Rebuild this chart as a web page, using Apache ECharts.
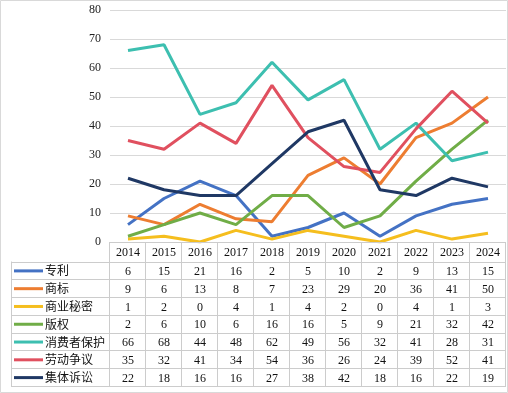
<!DOCTYPE html>
<html><head><meta charset="utf-8">
<script src="https://cdn.jsdelivr.net/npm/echarts@6/dist/echarts.min.js"></script>
<style>html,body{margin:0;padding:0;background:#fff}#c{width:508px;height:393px}</style>
</head><body><div id="c"></div>
<script>
const years = ['2014','2015','2016','2017','2018','2019','2020','2021','2022','2023','2024'];
const names = ['专利','商标','商业秘密','版权','消费者保护','劳动争议','集体诉讼'];
const patent   = [6,15,21,16,2,5,10,2,9,13,15];
const trademark= [9,6,13,8,7,23,29,20,36,41,50];
const secret   = [1,2,0,4,1,4,2,0,4,1,3];
const copyright= [2,6,10,6,16,16,5,9,21,32,42];
const consumer = [66,68,44,48,62,49,56,32,41,28,31];
const labor    = [35,32,41,34,54,36,26,24,39,52,41];
const classAct = [22,18,16,16,27,38,42,18,16,22,19];
const yTicks = [0,10,20,30,40,50,60,70,80];
const seriesData = [patent,trademark,secret,copyright,consumer,labor,classAct];
const colors = ['#4472C4','#ED7D31','#F5BE1E','#70AD47','#3DBFB0','#E0505F','#1F3864'];

const G = {left:110, top:10, width:396, height:232};
const chart = echarts.init(document.getElementById('c'));
chart.setOption({
  animation:false,
  grid:{left:G.left, top:G.top, width:G.width, height:G.height},
  xAxis:{type:'category', data:years, boundaryGap:true,
    axisLine:{show:false}, axisTick:{show:false}, axisLabel:{show:false}, splitLine:{show:false}},
  yAxis:{type:'value', min:yTicks[0], max:yTicks[yTicks.length-1], interval:yTicks[1]-yTicks[0],
    axisLine:{show:false}, axisTick:{show:false},
    axisLabel:{fontFamily:'Liberation Serif', fontSize:12, color:'#222', margin:9},
    splitLine:{lineStyle:{color:'#D9D9D9', width:1}}},
  series: seriesData.map((d,i)=>({name:names[i], type:'line', data:d, showSymbol:false,
    lineStyle:{width:3, color:colors[i]}, itemStyle:{color:colors[i]}, z:2+i}))
});

// data table
const headTop = G.top + G.height;
const headBot = 261.5;
const tableBot = 386;
const rowH = (tableBot - headBot) / names.length;
const tableLeft = 11;
const colW = G.width / years.length;
const right = G.left + G.width;
const lc = '#CCCCCC';
const g = [];
g.push({type:'rect', shape:{x:0.5,y:0.5,width:507,height:392}, style:{fill:'none', stroke:'#D9D9D9', lineWidth:1}, silent:true});
// horizontal lines
g.push({type:'line', shape:{x1:G.left, y1:headTop+0.5, x2:right, y2:headTop+0.5}, style:{stroke:lc, lineWidth:1}});
for (let r=0;r<=names.length;r++){
  const y = Math.round(headBot + r*rowH)+0.5;
  g.push({type:'line', shape:{x1:tableLeft, y1:y, x2:right, y2:y}, style:{stroke:lc, lineWidth:1}});
}
// vertical lines
g.push({type:'line', shape:{x1:tableLeft+0.5, y1:headBot, x2:tableLeft+0.5, y2:tableBot+0.5}, style:{stroke:lc, lineWidth:1}});
for (let k=0;k<=years.length;k++){
  const x = Math.round(G.left + k*colW)-0.5;
  g.push({type:'line', shape:{x1:x, y1:headTop, x2:x, y2:tableBot+0.5}, style:{stroke:lc, lineWidth:1}});
}
// header
years.forEach((yr,i)=>{
  const cx = chart.convertToPixel({xAxisIndex:0}, yr);
  g.push({type:'text', x:cx, y:(headTop+headBot)/2+1, style:{text:yr, fontFamily:'Liberation Serif', fontSize:12, fill:'#111', align:'center', verticalAlign:'middle'}});
});
// rows
names.forEach((nm,r)=>{
  const cy = headBot + (r+0.5)*rowH + 0.5;
  g.push({type:'line', shape:{x1:14, y1:cy, x2:43, y2:cy}, style:{stroke:colors[r], lineWidth:3}});
  g.push({type:'text', x:45, y:cy, style:{text:nm, fontFamily:'Noto Sans CJK SC', fontSize:12, fill:'#111', align:'left', verticalAlign:'middle'}});
  seriesData[r].forEach((v,i)=>{
    const cx = chart.convertToPixel({xAxisIndex:0}, years[i]);
    g.push({type:'text', x:cx, y:cy+1, style:{text:String(v), fontFamily:'Liberation Serif', fontSize:12, fill:'#111', align:'center', verticalAlign:'middle'}});
  });
});
chart.setOption({graphic:{elements:g.map(e=>Object.assign({silent:true, z:100}, e))}});
</script></body></html>
